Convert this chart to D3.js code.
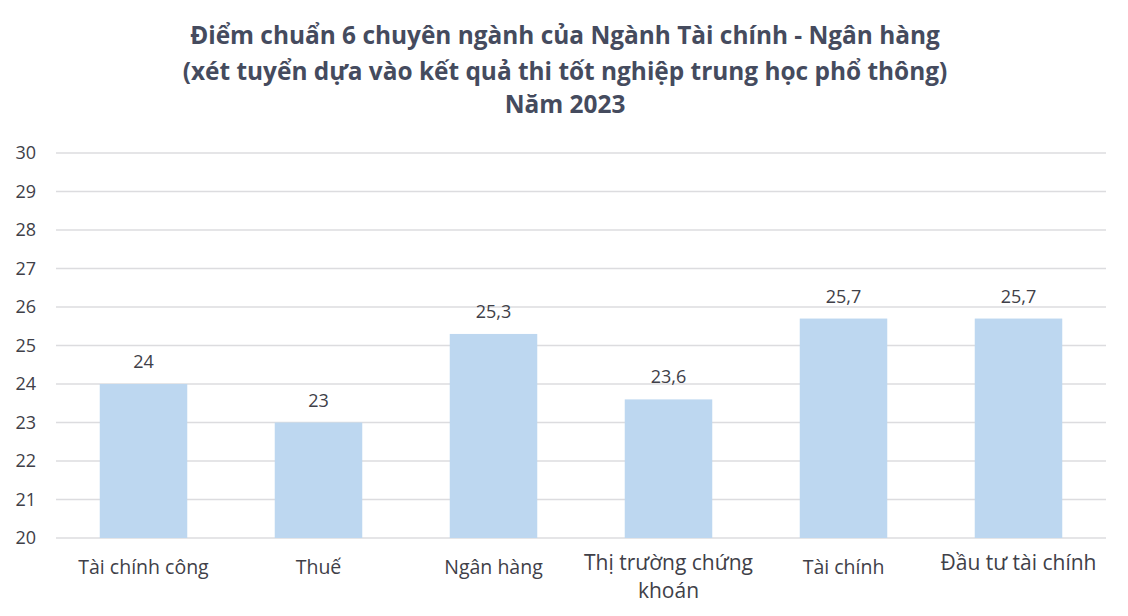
<!DOCTYPE html>
<html>
<head>
<meta charset="utf-8">
<script src="https://cdn.jsdelivr.net/npm/d3@7.9.0/dist/d3.min.js"></script>
<style>
  body { margin: 0; background: #fff; }
  svg { display: block; font-family: "Open Sans", "Noto Sans", sans-serif; }
</style>
</head>
<body>
<svg id="chart" width="1128" height="616"></svg>
<script>
const titleLines = [
  "Điểm chuẩn 6 chuyên ngành của Ngành Tài chính - Ngân hàng",
  "(xét tuyển dựa vào kết quả thi tốt nghiệp trung học phổ thông)",
  "Năm 2023"
];
const majors = ["Tài chính công", "Thuế", "Ngân hàng", "Thị trường chứng khoán", "Tài chính", "Đầu tư tài chính"];
const scores = [24, 23, 25.3, 23.6, 25.7, 25.7];
const yTicks = [20, 21, 22, 23, 24, 25, 26, 27, 28, 29, 30];

const svg = d3.select("#chart");
const margin = { top: 153, right: 22, bottom: 78, left: 56 };
const width = 1128, height = 616;

const x = d3.scaleBand()
  .domain(majors)
  .range([margin.left, width - margin.right])
  .paddingInner(0.5)
  .paddingOuter(0.25);

const y = d3.scaleLinear()
  .domain([20, 30])
  .range([height - margin.bottom, margin.top]);

// title, sized so the first line spans about 750px
const title = svg.append("g")
  .selectAll("text")
  .data(titleLines)
  .join("text")
  .attr("x", 565)
  .attr("y", (d, i) => [44, 80, 113][i])
  .attr("text-anchor", "middle")
  .attr("fill", "#454b5e")
  .attr("font-size", 22)
  .attr("font-weight", "bold")
  .text((d) => d);
const w0 = title.node().getComputedTextLength();
title.attr("font-size", 22 * 750 / w0);

// gridlines
svg.append("g")
  .selectAll("line")
  .data(yTicks)
  .join("line")
  .attr("x1", margin.left)
  .attr("x2", width - margin.right)
  .attr("y1", (d) => y(d))
  .attr("y2", (d) => y(d))
  .attr("stroke", "#dcdcdf")
  .attr("stroke-width", 1.5);

// y axis labels
const yAxis = svg.append("g")
  .attr("transform", `translate(${margin.left - 20},0)`)
  .call(d3.axisLeft(y).tickValues(yTicks).tickSize(0).tickPadding(0));
yAxis.select(".domain").remove();
yAxis.selectAll("text")
  .attr("font-size", 18)
  .attr("font-family", "Open Sans, sans-serif")
  .attr("fill", "#404048");

// bars
svg.append("g")
  .selectAll("rect")
  .data(scores)
  .join("rect")
  .attr("x", (d, i) => x(majors[i]))
  .attr("y", (d) => y(d))
  .attr("width", x.bandwidth())
  .attr("height", (d) => y(20) - y(d))
  .attr("fill", "#bdd7f0");

// value labels
svg.append("g")
  .selectAll("text")
  .data(scores)
  .join("text")
  .attr("x", (d, i) => x(majors[i]) + x.bandwidth() / 2)
  .attr("y", (d) => y(d) - 16)
  .attr("text-anchor", "middle")
  .attr("font-size", 18)
  .attr("fill", "#404048")
  .text((d) => String(d).replace(".", ","));

// category labels (the long one wraps onto two lines)
const bigLabel = (i) => i === 3 || i === 5;
const catLines = [["Tài chính công"], ["Thuế"], ["Ngân hàng"], ["Thị trường chứng", "khoán"], ["Tài chính"], ["Đầu tư tài chính"]];
const cats = svg.append("g")
  .selectAll("text")
  .data(majors)
  .join("text")
  .attr("x", (d) => x(d) + x.bandwidth() / 2)
  .attr("y", (d, i) => bigLabel(i) ? 570 : 574)
  .attr("text-anchor", "middle")
  .attr("font-size", (d, i) => bigLabel(i) ? 21 : 19.5)
  .attr("fill", "#404048");
cats.selectAll("tspan")
  .data((d, i) => catLines[i])
  .join("tspan")
  .attr("x", function () { return this.parentNode.getAttribute("x"); })
  .attr("dy", (d, j) => j === 0 ? 0 : 28)
  .text((d) => d);
</script>
</body>
</html>
